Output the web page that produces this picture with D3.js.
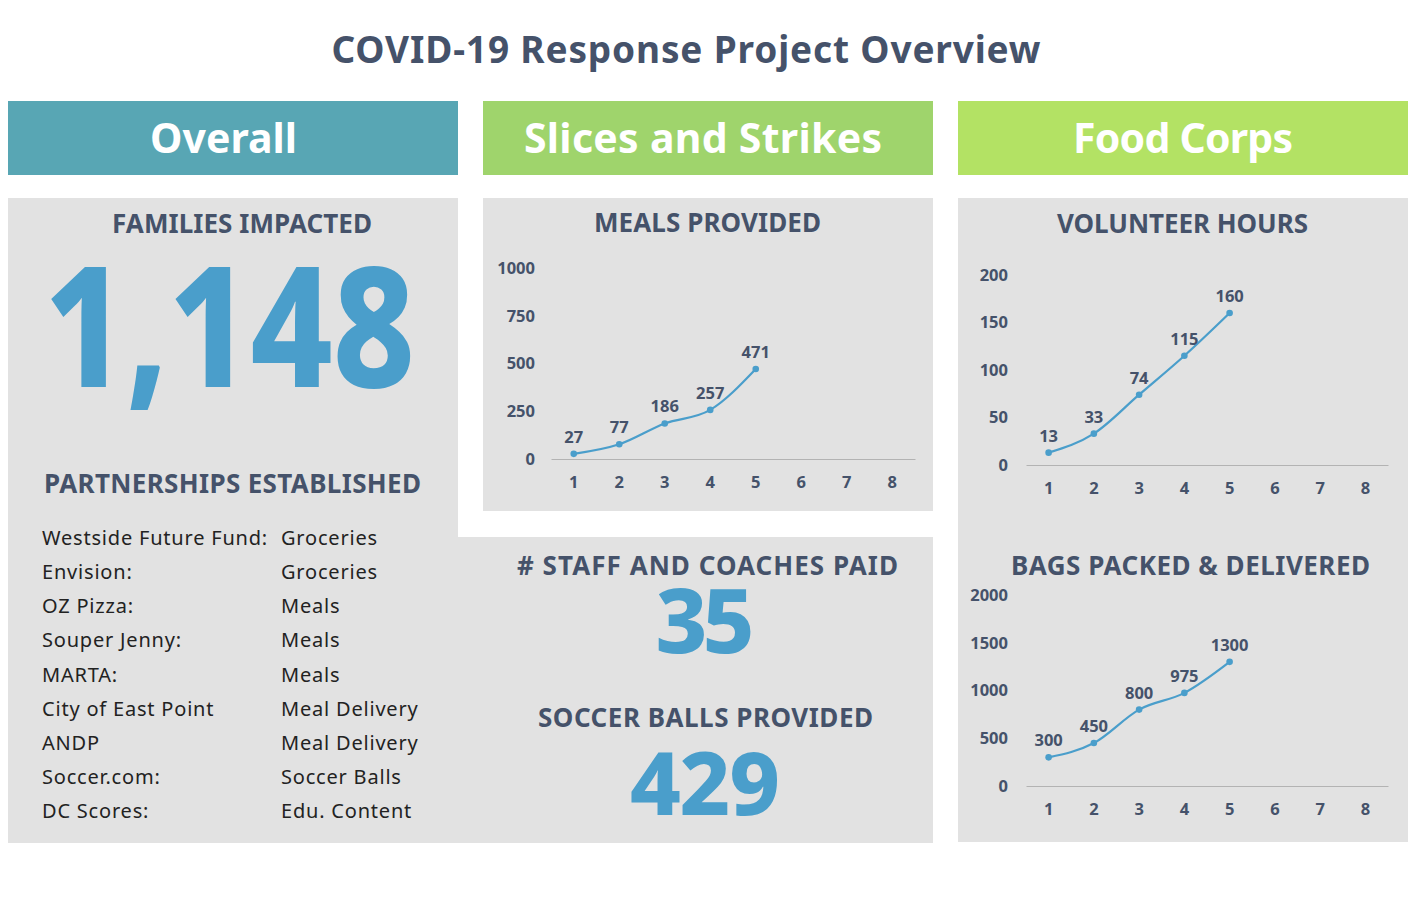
<!DOCTYPE html>
<html>
<head>
<meta charset="utf-8">
<script src="https://cdn.jsdelivr.net/npm/d3@7"></script>
<style>
  body { margin: 0; background: #fff; }
  svg { display: block; font-family: "Noto Sans", sans-serif; }
</style>
</head>
<body>
<div id="dash"></div>
<script>
// data
var title = "COVID-19 Response Project Overview";
var programs = ["Overall", "Slices and Strikes", "Food Corps"];
var programColors = ["#58a6b4", "#9fd46c", "#b3e264"];

var weeks = [1, 2, 3, 4, 5, 6, 7, 8];
var mealsProvided = [27, 77, 186, 257, 471];
var mealsTicks = [0, 250, 500, 750, 1000];
var volunteerHours = [13, 33, 74, 115, 160];
var volunteerTicks = [0, 50, 100, 150, 200];
var bagsPacked = [300, 450, 800, 975, 1300];
var bagsTicks = [0, 500, 1000, 1500, 2000];

var familiesImpacted = 1148;
var staffPaid = 35;
var soccerBalls = 429;

var partnerNames = ["Westside Future Fund:", "Envision:", "OZ Pizza:", "Souper Jenny:", "MARTA:",
  "City of East Point", "ANDP", "Soccer.com:", "DC Scores:"];
var partnerTypes = ["Groceries", "Groceries", "Meals", "Meals", "Meals",
  "Meal Delivery", "Meal Delivery", "Soccer Balls", "Edu. Content"];

var W = 1408, H = 920;
var dark = "#45526a", blue = "#4a9ecb", panel = "#e2e2e2";

var svg = d3.select("#dash").append("svg").attr("width", W).attr("height", H);

// centred text stretched to the width it takes in the original layout
function label(x, y, txt, size, weight, fill, width, adjust) {
  var t = svg.append("text").attr("x", x).attr("y", y).attr("text-anchor", "middle")
    .attr("font-size", size).attr("font-weight", weight).attr("fill", fill).text(txt);
  if (width) t.attr("textLength", width).attr("lengthAdjust", adjust || "spacing");
  return t;
}

label(686, 63, title, 37, 700, dark, 709);

// program header bars
var colX = [8, 483, 958];
var headX = [223.5, 703, 1183];
var headW = [147, 358, 220];
programs.forEach(function (p, i) {
  svg.append("rect").attr("x", colX[i]).attr("y", 101).attr("width", 450).attr("height", 74)
    .attr("fill", programColors[i]);
  label(headX[i], 153, p, 41, 700, "#fff", headW[i]);
});

// grey panels
[[8, 198, 450, 645], [458, 537, 475, 306], [483, 198, 450, 313], [958, 198, 450, 644]].forEach(function (r) {
  svg.append("rect").attr("x", r[0]).attr("y", r[1]).attr("width", r[2]).attr("height", r[3]).attr("fill", panel);
});

function heading(x, y, txt, width) {
  return label(x, y, txt, 26, 700, dark, width);
}

// overall column
heading(242, 233, "FAMILIES IMPACTED", 260);
label(229.5, 387, d3.format(",")(familiesImpacted), 168, 800, blue, 371, "spacingAndGlyphs");

heading(232.5, 493, "PARTNERSHIPS ESTABLISHED", 377);

var rowY = d3.scalePoint().domain(d3.range(partnerNames.length)).range([545, 818]);
var partners = svg.append("g").attr("font-size", 20).attr("letter-spacing", 0.8).attr("fill", "#222");
partners.selectAll(".pname").data(partnerNames).join("text").attr("class", "pname")
  .attr("x", 42).attr("y", function (d, i) { return rowY(i); }).text(function (d) { return d; });
partners.selectAll(".ptype").data(partnerTypes).join("text").attr("class", "ptype")
  .attr("x", 281).attr("y", function (d, i) { return rowY(i); }).text(function (d) { return d; });

// middle stats
heading(707.5, 575, "# STAFF AND COACHES PAID", 381);
label(705, 653, staffPaid, 90, 800, blue, 99);
heading(705.5, 727, "SOCCER BALLS PROVIDED", 335);
label(705, 815, soccerBalls, 88, 800, blue, 150);

// line charts
function lineChart(opts) {
  var g = svg.append("g");
  var x = d3.scaleBand().domain(weeks).range([opts.x0, opts.x1]);
  var y = d3.scaleLinear().domain([0, d3.max(opts.ticks)]).range([opts.yb, opts.yt]);

  var xa = g.append("g").attr("transform", "translate(0," + opts.yb + ")")
    .call(d3.axisBottom(x).tickSize(0).tickPadding(17));
  xa.select(".domain").attr("stroke", "#b3b3b3").attr("stroke-width", 1.2);

  var ya = g.append("g").attr("transform", "translate(" + opts.x0 + ",0)")
    .call(d3.axisLeft(y).tickValues(opts.ticks).tickFormat(d3.format("d")).tickSize(0).tickPadding(opts.pad));
  ya.select(".domain").remove();

  g.selectAll(".tick text").attr("font-family", "Noto Sans, sans-serif")
    .attr("font-size", 16.5).attr("font-weight", 700).attr("fill", dark);

  var pts = opts.values.map(function (v, i) { return [x(weeks[i]) + x.bandwidth() / 2, y(v), v]; });
  g.append("path").datum(pts).attr("fill", "none").attr("stroke", blue).attr("stroke-width", 2.2)
    .attr("d", d3.line().curve(d3.curveMonotoneX));
  g.selectAll("circle").data(pts).join("circle")
    .attr("cx", function (d) { return d[0]; }).attr("cy", function (d) { return d[1]; })
    .attr("r", 3.3).attr("fill", blue);
  g.selectAll(".lbl").data(pts).join("text").attr("class", "lbl")
    .attr("x", function (d) { return d[0]; }).attr("y", function (d) { return d[1] - 11; })
    .attr("text-anchor", "middle").attr("font-size", 16.5).attr("font-weight", 700).attr("fill", dark)
    .text(function (d) { return d[2]; });
}

heading(707.5, 232, "MEALS PROVIDED", 227);
lineChart({ values: mealsProvided, ticks: mealsTicks, x0: 551, x1: 915, yb: 459, yt: 268, pad: 16 });

heading(1182.5, 233, "VOLUNTEER HOURS", 251);
lineChart({ values: volunteerHours, ticks: volunteerTicks, x0: 1026, x1: 1388, yb: 465, yt: 275, pad: 18 });

heading(1190.5, 575, "BAGS PACKED & DELIVERED", 359);
lineChart({ values: bagsPacked, ticks: bagsTicks, x0: 1026, x1: 1388, yb: 786, yt: 595, pad: 18 });
</script>
</body>
</html>
